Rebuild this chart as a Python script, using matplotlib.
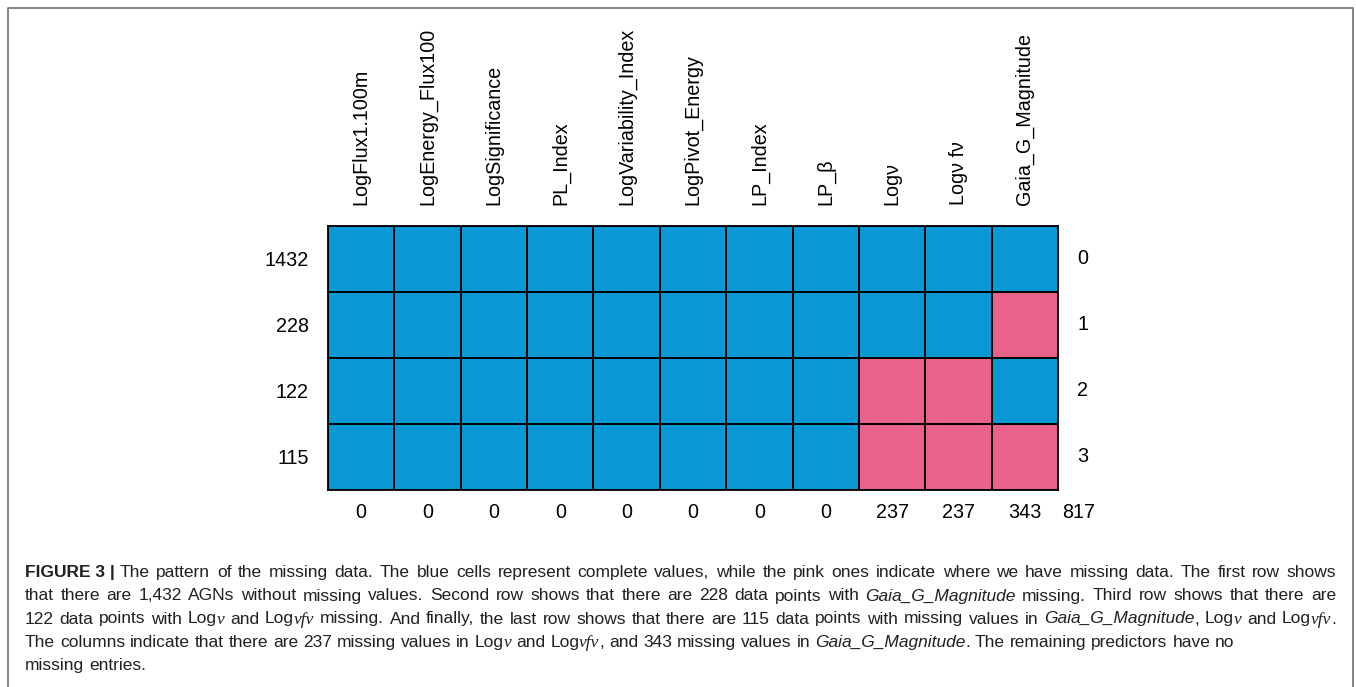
import re
import numpy as np
import matplotlib
matplotlib.use("Agg")
import matplotlib.pyplot as plt
from matplotlib.colors import ListedColormap
from matplotlib.lines import Line2D

# datos del patron de valores perdidos
columnas = ['LogFlux1.100m', 'LogEnergy_Flux100', 'LogSignificance', 'PL_Index',
            'LogVariability_Index', 'LogPivot_Energy', 'LP_Index', 'LP_\u03b2',
            'Log\u03bd', 'Log\u03bd f\u03bd', 'Gaia_G_Magnitude']
filas_n = [1432, 228, 122, 115]
filas_id = [0, 1, 2, 3]
patron = [[0, 0, 0, 0, 0, 0, 0, 0, 0, 0, 0],
          [0, 0, 0, 0, 0, 0, 0, 0, 0, 0, 1],
          [0, 0, 0, 0, 0, 0, 0, 0, 1, 1, 0],
          [0, 0, 0, 0, 0, 0, 0, 0, 1, 1, 1]]
perdidos_col = [0, 0, 0, 0, 0, 0, 0, 0, 237, 237, 343]
perdidos_total = 817

# pie de figura (** negrita, * cursiva, # cursiva serif, ~ espacio fijo)
pie = [
    "**FIGURE~3~|~**The pattern of the missing data. The blue cells represent complete values, while the pink ones indicate where we have missing data. The first row shows",
    "that there are 1,432 AGNs without missing values. Second row shows that there are 228 data points with *Gaia_G_Magnitude* missing. Third row shows that there are",
    "122 data points with Log#\u03bd# and Log#\u03bdf\u03bd# missing. And finally, the last row shows that there are 115 data points with missing values in *Gaia_G_Magnitude*, Log#\u03bd# and Log#\u03bdf\u03bd#.",
    "The columns indicate that there are 237 missing values in Log#\u03bd# and Log#\u03bdf\u03bd#, and 343 missing values in *Gaia_G_Magnitude*. The remaining predictors have no",
    "missing entries.",
]
pie_justificado = [True, True, True, False, False]

W, H = 1356, 687
plt.rcParams['font.family'] = ['Liberation Sans', 'DejaVu Sans']
fig = plt.figure(figsize=(W / 100, H / 100), dpi=100)

# marco gris de la figura
fig.add_artist(Line2D([8 / W, 8 / W, 1353 / W, 1353 / W], [0, 1 - 8 / H, 1 - 8 / H, 0],
                      transform=fig.transFigure, color='#6f6f6f', lw=1.2))

# matriz de celdas
ax = fig.add_axes([328 / W, 1 - 490 / H, 730 / W, 264 / H])
cmap = ListedColormap(['#0a97d6', '#e8628b'])
mat = np.array(patron)
ax.pcolormesh(np.arange(len(columnas) + 1) - 0.5, np.arange(len(filas_n) + 1) - 0.5, mat,
              cmap=cmap, vmin=0, vmax=1, edgecolors='black', linewidth=1.3)
ax.set_xlim(-0.5, len(columnas) - 0.5)
ax.set_ylim(len(filas_n) - 0.5, -0.5)
for s in ax.spines.values():
    s.set_linewidth(1.3)

fs = 14.2
ax.xaxis.tick_top()
ax.set_xticks(range(len(columnas)))
ax.set_xticklabels(columnas, rotation=90, fontsize=fs)
ax.set_yticks(range(len(filas_n)))
ax.set_yticklabels([str(v) for v in filas_n], fontsize=fs)
ax.tick_params(axis='x', length=0, pad=15)
ax.tick_params(axis='y', length=0, pad=14)

for i in filas_id:
    ax.annotate(str(i), (len(columnas) - 0.5, i), xytext=(18, 0), textcoords='offset points',
                ha='center', va='center', fontsize=fs)
for j, v in enumerate(perdidos_col):
    ax.annotate(str(v), (j, len(filas_n) - 0.5), xytext=(0, -16), textcoords='offset points',
                ha='center', va='center', fontsize=fs)
ax.annotate(str(perdidos_total), (len(columnas) - 0.5, len(filas_n) - 0.5), xytext=(14.5, -16),
            textcoords='offset points', ha='center', va='center', fontsize=fs)

# pie de figura justificado
renderer = fig.canvas.get_renderer()
fs_pie = 12.5
x0, x1 = 25, 1336
base = [577, 600.5, 623.5, 647, 670]
estilos = {'r': dict(family=['Liberation Sans']),
           'b': dict(family=['Liberation Sans'], weight='bold'),
           'i': dict(family=['Liberation Sans'], style='italic'),
           's': dict(family=['Liberation Serif'], style='italic')}


def trozos(palabra):
    res = []
    for t in re.split(r'(\*\*.+?\*\*|\*.+?\*|#.+?#)', palabra):
        if not t:
            continue
        if t.startswith('**'):
            res.append((t[2:-2], 'b'))
        elif t.startswith('*'):
            res.append((t[1:-1], 'i'))
        elif t.startswith('#'):
            res.append((t[1:-1], 's'))
        else:
            res.append((t, 'r'))
    return [(t.replace('~', ' '), e) for t, e in res]


def ancho(t):
    return t.get_window_extent(renderer).width


esp = fig.text(0, 0, 'a a', fontsize=fs_pie)
una = fig.text(0, 0, 'a', fontsize=fs_pie)
esp_w = ancho(esp) - 2 * ancho(una)
esp.remove()
una.remove()

for linea, y, just in zip(pie, base, pie_justificado):
    palabras = []
    for pal in linea.split(' '):
        objs = []
        for t, e in trozos(pal):
            objs.append(fig.text(0, 1 - y / H, t, fontsize=fs_pie, va='baseline',
                                 color='#231f20', **estilos[e]))
        palabras.append((objs, sum(ancho(o) for o in objs)))
    total = sum(w for _, w in palabras)
    hueco = (x1 - x0 - total) / (len(palabras) - 1) if just else esp_w
    x = x0
    for objs, w in palabras:
        xx = x
        for o in objs:
            o.set_x(xx / W)
            xx += ancho(o)
        x += w + hueco

fig.savefig('out.png', dpi=100)
